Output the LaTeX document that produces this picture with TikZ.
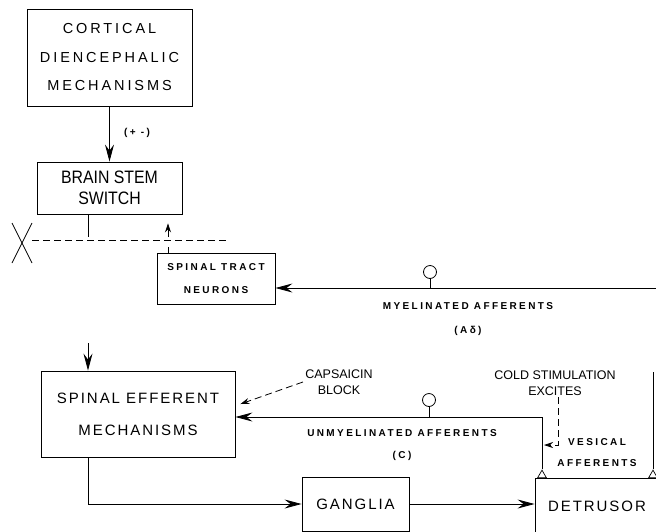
\documentclass[tikz,border=0pt]{standalone}
\usepackage{fontspec}
\setmainfont{Liberation Sans}
\newfontfamily\headfont[LetterSpace=20]{Liberation Sans}
\newfontfamily\boxfont[LetterSpace=13]{Liberation Sans}
\newfontfamily\narrowfont[FakeStretch=0.88]{Liberation Sans}
\newfontfamily\tagfont[LetterSpace=24]{Liberation Sans Bold}
\usetikzlibrary{arrows.meta, positioning, shapes.geometric}

\tikzset{
  box/.style={draw, line width=0.9pt, inner sep=0pt, align=center},
  arr/.style={line width=0.8pt, -{Stealth[length=17pt, width=9pt, inset=6pt]}},
  sarr/.style={line width=0.8pt, -{Stealth[length=9pt, width=6pt, inset=3pt]}},
  darr/.style={line width=0.8pt, dash pattern=on 7pt off 4pt,
    -{Stealth[length=9pt, width=6pt, inset=3pt]}},
  tag/.style={inner sep=0pt, align=center},
  note/.style={inner sep=0pt, align=center, font=\fontsize{12.5}{16}\selectfont},
  bulb/.style={circle, draw, line width=0.8pt, minimum size=13pt, inner sep=0pt},
  recep/.style={regular polygon, regular polygon sides=3, draw, line width=0.7pt,
    minimum size=10pt, inner sep=0pt, anchor=south},
}

\begin{document}
\begin{tikzpicture}[x=1pt, y=-1pt, line width=0.8pt]

    \useasboundingbox (0,0) rectangle (656,531);
    \clip (0,0) rectangle (656,531);

    % ============================================================
    % BOXES
    % ============================================================
    \node[box, minimum width=165pt, minimum height=97pt,
        font=\headfont\fontsize{14.5}{28.5}\selectfont] (cdm) at (109.5,57.5)
        {CORTICAL\\DIENCEPHALIC\\MECHANISMS};
    \node[box, minimum width=145pt, minimum height=52pt,
        font=\narrowfont\fontsize{18}{20.5}\selectfont] (bss) at (109.5,188)
        {BRAIN STEM\\SWITCH};
    \node[box, minimum width=118pt, minimum height=51pt,
        font=\tagfont\fontsize{10}{23}\selectfont] (stn) at (216,278.5)
        {SPINAL TRACT\\NEURONS};
    \node[box, minimum width=194pt, minimum height=86pt,
        font=\boxfont\fontsize{15}{32}\selectfont] (sem) at (138,414)
        {SPINAL EFFERENT\\MECHANISMS};
    \node[box, minimum width=107pt, minimum height=54pt,
        font=\boxfont\fontsize{15}{18}\selectfont] (gng) at (355.5,504) {GANGLIA};
    \node[box, minimum width=124pt, minimum height=56pt,
        font=\boxfont\fontsize{15}{18}\selectfont] (dtr) at (597,506) {DETRUSOR};

    % ============================================================
    % LABELS
    % ============================================================
    \node[tag, font=\tagfont\fontsize{10}{12}\selectfont] (pm) at (137,133) {(+ -)};
    \node[tag, font=\tagfont\fontsize{10}{24}\selectfont] (mya) at (468,319)
        {MYELINATED AFFERENTS\\(Aδ)};
    \node[tag, font=\tagfont\fontsize{10}{22}\selectfont] (uma) at (402,445)
        {UNMYELINATED AFFERENTS\\(C)};
    \node[tag, font=\tagfont\fontsize{10}{21}\selectfont] (ves) at (597,453)
        {VESICAL\\AFFERENTS};
    \node[note] (cap) at (339,382) {CAPSAICIN\\BLOCK};
    \node[note] (cold) at (555,383) {COLD STIMULATION\\EXCITES};

    % ============================================================
    % RECEPTOR ENDINGS
    % ============================================================
    \node[bulb] (myb) at (430,272) {};
    \node[bulb] (umb) at (429,400) {};
    \node[recep] (rc1) at (542,478) {};
    \node[recep] (rc2) at (653,478) {};

    % ============================================================
    % DESCENDING PATH
    % ============================================================
    \draw[arr] (cdm.south) -- (bss.north);
    \coordinate (bsl) at (88,237);
    \draw (bsl |- bss.south) -- (bsl);
    \coordinate (upa) at (168,237);
    \draw (stn.north -| upa) -- ++(0,-6);
    \draw[sarr] (upa) -- ([yshift=-9pt]bss.south -| upa);

    % cut of the cord
    \draw[dash pattern=on 7pt off 4pt] (32,240) -- (228,240);
    \draw (12,223) -- (32,263);
    \draw (32,223) -- (12,263);

    % ============================================================
    % AFFERENTS
    % ============================================================
    \coordinate (myr) at (656,288);
    \draw[arr] (myr) -- (myr -| stn.east);
    \draw (myb.south) -- (myb.south |- myr);
    \draw (rc2.north) -- ++(0,-97);

    \coordinate (umr) at (542,417);
    \draw[arr] (rc1.north) -- (umr) -- (umr -| sem.east);
    \draw (umb.south) -- (umb.south |- umr);

    \coordinate (csb) at (558,397);
    \coordinate (cse) at (544,445);
    \draw[darr] (csb) |- (cse);
    \draw[darr] ([xshift=-2pt]cap.west) -- ([xshift=5pt, yshift=10pt]sem.east);

    % ============================================================
    % EFFERENTS
    % ============================================================
    \coordinate (sin) at (88,343);
    \draw[arr] (sin) -- (sin |- sem.north);
    \draw[arr] (sem.south -| sin) |- (gng.west);
    \draw[arr] (gng.east) -- (gng.east -| dtr.west);

\end{tikzpicture}
\end{document}
